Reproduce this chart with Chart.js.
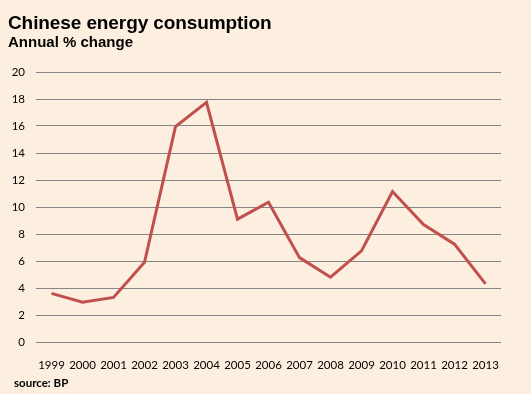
<!DOCTYPE html>
<html>
<head>
<meta charset="utf-8">
<script src="https://cdn.jsdelivr.net/npm/chart.js@4/dist/chart.umd.min.js"></script>
<style>
	body { margin: 0; background: #FDEFDF; }
	#wrap { position: relative; width: 531px; height: 394px; background: #FDEFDF; overflow: hidden; }
	#chart { position: absolute; left: 0; top: 0; }
	.txt { position: absolute; white-space: nowrap; color: #000; font-weight: bold; }
	#title { left: 8px; top: 13px; font: bold 19px "Liberation Sans", Arial, sans-serif; line-height: 19px; letter-spacing: -0.1px; }
	#subtitle { left: 8px; top: 34px; font: bold 15px "Liberation Sans", Arial, sans-serif; line-height: 15px; }
	#source { left: 14px; top: 377px; font: bold 11.5px Lato, "Open Sans", sans-serif; line-height: 11px; }
</style>
</head>
<body>
<div id="wrap">
	<canvas id="chart" width="531" height="394"></canvas>
	<div class="txt" id="title">Chinese energy consumption</div>
	<div class="txt" id="subtitle">Annual % change</div>
	<div class="txt" id="source">source: BP</div>
</div>
<script>
const years = ['1999', '2000', '2001', '2002', '2003', '2004', '2005', '2006', '2007', '2008', '2009', '2010', '2011', '2012', '2013'];
const change = [3.6, 2.95, 3.3, 5.9, 15.95, 17.75, 9.1, 10.35, 6.25, 4.8, 6.75, 11.15, 8.7, 7.25, 4.3];
const yTicks = { min: 0, max: 20, step: 2 };

const tickFont = { family: 'Lato, "Open Sans", sans-serif', size: 11.5 };

function plotChart() {
	const canvas = document.getElementById('chart');
	new Chart(canvas.getContext('2d'), {
		type: 'line',
		data: {
			labels: years,
			datasets: [{
				data: change,
				borderColor: '#C0504D',
				borderWidth: 3,
				pointRadius: 0,
				tension: 0,
				fill: false,
			}],
		},
		options: {
			responsive: false,
			animation: false,
			layout: { padding: { left: 0, right: 30, top: 72, bottom: 0 } },
			plugins: {
				legend: { display: false },
				tooltip: { enabled: false },
			},
			scales: {
				x: {
					offset: true,
					grid: { display: false },
					border: { display: false },
					ticks: { color: '#000', font: tickFont, padding: 8, maxRotation: 0, autoSkip: false },
					afterFit: s => { s.height = 52; },
				},
				y: {
					min: yTicks.min,
					max: yTicks.max,
					grid: { color: '#868686', lineWidth: 1, drawTicks: false },
					border: { display: false },
					ticks: { stepSize: yTicks.step, color: '#000', font: tickFont, padding: 11 },
					afterFit: s => { s.width = 36; },
				},
			},
		},
	});
}

window.onload = plotChart;
</script>
</body>
</html>
